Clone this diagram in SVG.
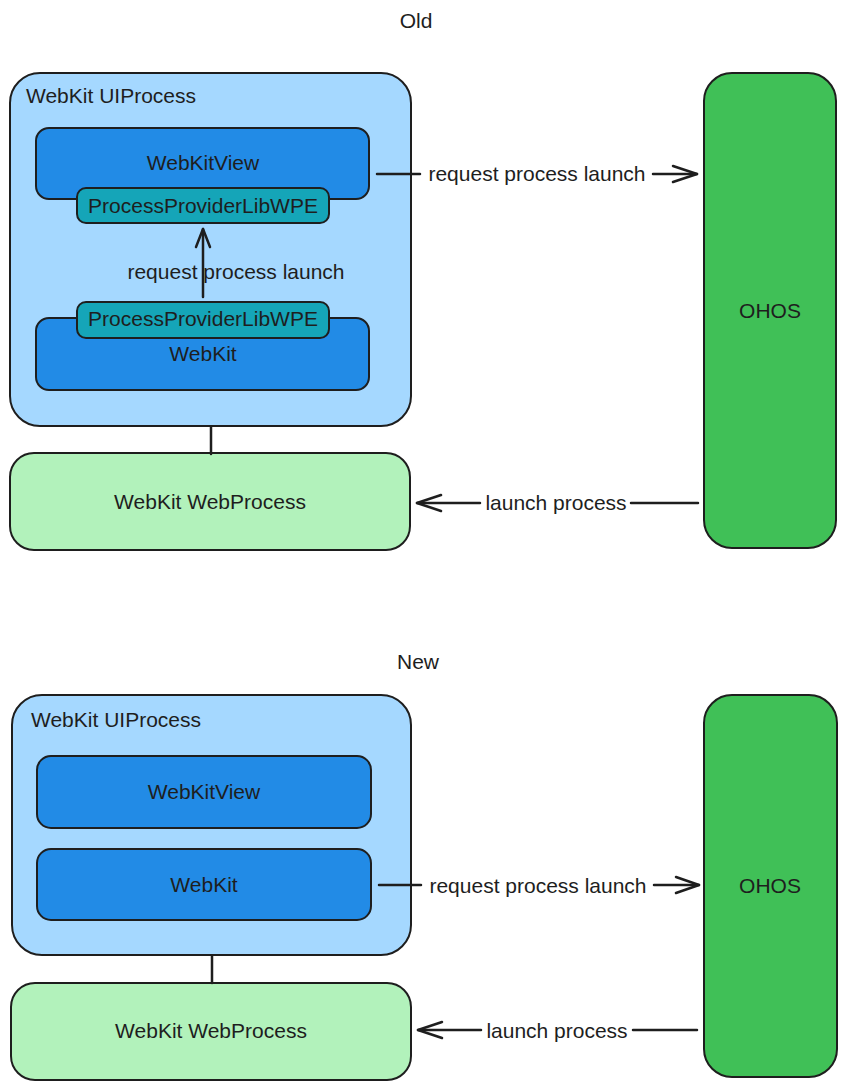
<svg xmlns="http://www.w3.org/2000/svg" width="847" height="1090" viewBox="0 0 847 1090">
<style>
  .box { stroke: #1e1e1e; stroke-width: 2; }
  .ui { fill: #a5d8ff; }
  .blue { fill: #228be6; }
  .teal { fill: #15a5b8; }
  .green { fill: #b2f2bb; }
  .ohos { fill: #40c057; }
  text { font-family: "Liberation Sans", Arial, sans-serif; font-size: 21px; fill: #1e1e1e; }
  .c { text-anchor: middle; dominant-baseline: central; }
  .conn { stroke: #1e1e1e; stroke-width: 2.5; fill: none; stroke-linecap: round; }
  .head { stroke: #1e1e1e; stroke-width: 2.5; fill: none; stroke-linecap: round; stroke-linejoin: round; }
</style>
<rect width="847" height="1090" fill="#ffffff"/>

<text class="c" x="416" y="20">Old</text>
<text class="c" x="418" y="661">New</text>

<!-- OLD -->
<g id="old-uiprocess">
  <rect class="box ui" x="10" y="73" width="401" height="353" rx="30"/>
  <text x="26" y="103">WebKit UIProcess</text>
</g>
<g id="old-webkitview">
  <rect class="box blue" x="36" y="128" width="333" height="71" rx="13"/>
  <text class="c" x="203" y="162">WebKitView</text>
</g>
<g id="old-ppl-top">
  <rect class="box teal" x="77" y="188" width="252" height="35" rx="9"/>
  <text class="c" x="203" y="205">ProcessProviderLibWPE</text>
</g>
<g id="old-webkit">
  <rect class="box blue" x="36" y="318" width="333" height="72" rx="13"/>
  <text class="c" x="203" y="353">WebKit</text>
</g>
<g id="old-ppl-bottom">
  <rect class="box teal" x="77" y="302" width="252" height="36" rx="9"/>
  <text class="c" x="203" y="318">ProcessProviderLibWPE</text>
</g>
<g id="old-webprocess">
  <rect class="box green" x="10" y="453" width="400" height="97" rx="24"/>
  <text class="c" x="210" y="501">WebKit WebProcess</text>
</g>
<g id="old-ohos">
  <rect class="box ohos" x="704" y="73" width="132" height="475" rx="28"/>
  <text class="c" x="770" y="310">OHOS</text>
</g>

<!-- NEW -->
<g id="new-uiprocess">
  <rect class="box ui" x="12" y="695" width="399" height="260" rx="30"/>
  <text x="31" y="727">WebKit UIProcess</text>
</g>
<g id="new-webkitview">
  <rect class="box blue" x="37" y="756" width="334" height="72" rx="14"/>
  <text class="c" x="204" y="791">WebKitView</text>
</g>
<g id="new-webkit">
  <rect class="box blue" x="37" y="849" width="334" height="71" rx="14"/>
  <text class="c" x="204" y="884">WebKit</text>
</g>
<g id="new-webprocess">
  <rect class="box green" x="11" y="983" width="400" height="97" rx="24"/>
  <text class="c" x="211" y="1030">WebKit WebProcess</text>
</g>
<g id="new-ohos">
  <rect class="box ohos" x="704" y="695" width="133" height="382" rx="28"/>
  <text class="c" x="770" y="885">OHOS</text>
</g>

<g id="connectors">
  <!-- old internal arrow -->
  <line class="conn" x1="203" y1="297" x2="203" y2="229"/>
  <polyline class="head" points="196,247 203,229 210,247"/>
  <text class="c" x="236" y="271">request process launch</text>

  <!-- old request -->
  <line class="conn" x1="377" y1="174" x2="420" y2="174"/>
  <line class="conn" x1="653" y1="174" x2="697" y2="174"/>
  <polyline class="head" points="673,166 697,174 673,182"/>
  <text class="c" x="537" y="173">request process launch</text>

  <!-- old launch -->
  <line class="conn" x1="698" y1="503" x2="631" y2="503"/>
  <line class="conn" x1="480" y1="503" x2="417" y2="503"/>
  <polyline class="head" points="441,495 417,503 441,511"/>
  <text class="c" x="556" y="502">launch process</text>

  <!-- old ui to web -->
  <line class="conn" x1="211" y1="427" x2="211" y2="454"/>

  <!-- new request -->
  <line class="conn" x1="379" y1="885" x2="421" y2="885"/>
  <line class="conn" x1="654" y1="885" x2="699" y2="885"/>
  <polyline class="head" points="676,877 699,885 676,893"/>
  <text class="c" x="538" y="885">request process launch</text>

  <!-- new launch -->
  <line class="conn" x1="697" y1="1030" x2="633" y2="1030"/>
  <line class="conn" x1="481" y1="1030" x2="418" y2="1030"/>
  <polyline class="head" points="442,1022 418,1030 442,1038"/>
  <text class="c" x="557" y="1030">launch process</text>

  <!-- new ui to web -->
  <line class="conn" x1="212" y1="956" x2="212" y2="983"/>
</g>
</svg>
